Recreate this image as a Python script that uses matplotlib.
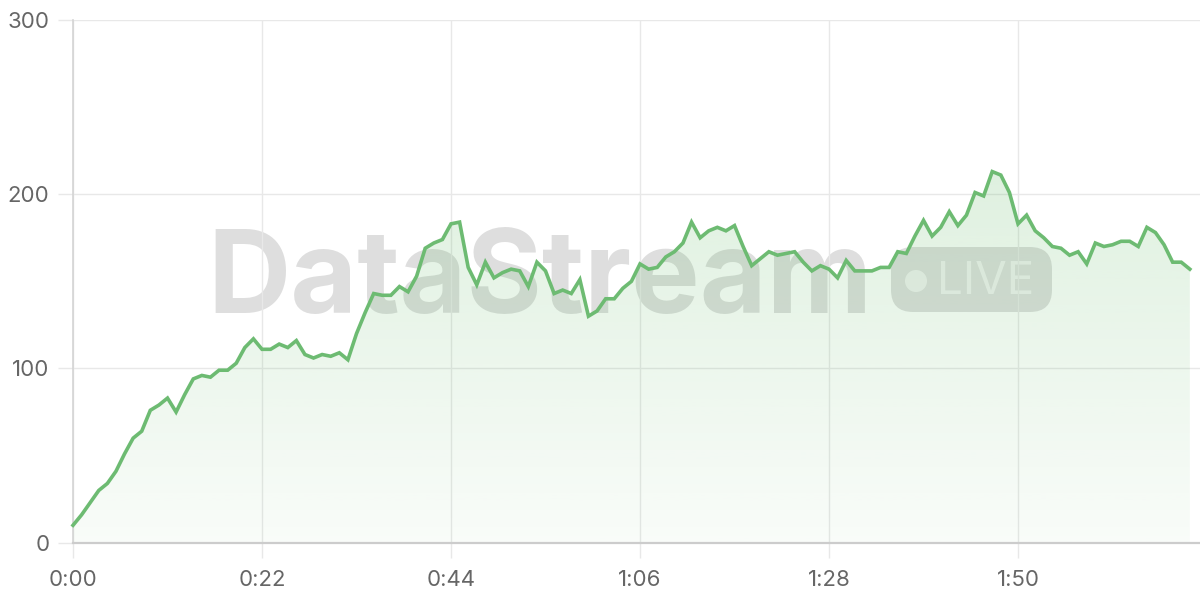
import matplotlib
matplotlib.use("Agg")
import matplotlib.pyplot as plt
import numpy as np
from matplotlib.patches import FancyBboxPatch, Circle, Polygon

# ---- data ----
values = [10, 16, 23, 30, 34, 41, 51, 60, 64, 76, 79, 83, 75, 85, 94, 96, 95, 99, 99, 103,
          112, 117, 111, 111, 114, 112, 116, 108, 106, 108, 107, 109, 105, 120, 132, 143, 142, 142, 147, 144,
          153, 169, 172, 174, 183, 184, 158, 148, 161, 152, 155, 157, 156, 147, 161, 156, 143, 145, 143, 151,
          130, 133, 140, 140, 146, 150, 160, 157, 158, 164, 167, 172, 184, 175, 179, 181, 179, 182, 170, 159,
          163, 167, 165, 166, 167, 161, 156, 159, 157, 152, 162, 156, 156, 156, 158, 158, 167, 166, 176, 185,
          176, 181, 190, 182, 188, 201, 199, 213, 211, 201, 183, 188, 179, 175, 170, 169, 165, 167, 160, 172,
          170, 171, 173, 173, 170, 181, 178, 171, 161, 161, 157]
seconds = list(range(len(values)))
x_ticks = [0, 22, 44, 66, 88, 110]
x_tick_labels = ["0:00", "0:22", "0:44", "1:06", "1:28", "1:50"]
y_ticks = [0, 100, 200, 300]
y_tick_labels = ["0", "100", "200", "300"]
watermark = "DataStream"
badge = "LIVE"

W, H = 1200, 600
fig = plt.figure(figsize=(12, 6), dpi=100)
fig.patch.set_facecolor("white")

font = "Inter"

# ---- overlay (pixel coordinates) for the watermark ----
ov = fig.add_axes([0, 0, 1, 1], zorder=1)
ov.set_xlim(0, W)
ov.set_ylim(H, 0)
ov.axis("off")
ov.text(540, 313, watermark, fontsize=83, fontweight="bold", family=font,
        color="black", alpha=0.13, ha="center", va="baseline")
pill = FancyBboxPatch((891, 247), 161, 65, boxstyle="round,pad=0,rounding_size=22",
                      facecolor="black", alpha=0.13, edgecolor="none")
ov.add_patch(pill)
ov.add_patch(Circle((916, 281), 11, facecolor="white", alpha=0.6, edgecolor="none"))
ov.text(937, 294, badge, fontsize=33, family=font, color="white", alpha=0.6,
        ha="left", va="baseline")

# ---- main axes ----
ax_left, ax_right, ax_top, ax_bottom = 73, 1200, 20, 542.7
ax = fig.add_axes([ax_left / W, 1 - ax_bottom / H, (ax_right - ax_left) / W, (ax_bottom - ax_top) / H],
                  zorder=2)
ax.patch.set_alpha(0)

xmax = (ax_right - ax_left) / 8.591

line_color = "#6dbb72"
grid_color = "#e8e8e8"
text_color = "#666666"

ax.set_axisbelow(True)
ax.grid(True, color=grid_color, linewidth=1.0, zorder=0)
ax.set_xticks(x_ticks)
ax.set_xticklabels(x_tick_labels)
ax.set_yticks(y_ticks)
ax.set_yticklabels(y_tick_labels)
ax.tick_params(axis="both", length=11, width=1.0, color=grid_color, labelcolor=text_color, labelsize=16)
ax.tick_params(axis="x", pad=9)
ax.tick_params(axis="y", pad=6)
for lbl in ax.get_xticklabels() + ax.get_yticklabels():
    lbl.set_fontfamily(font)
for s in ["top", "right"]:
    ax.spines[s].set_visible(False)
ax.spines["left"].set_color("#d4d4d4")
ax.spines["left"].set_linewidth(1.2)
ax.spines["bottom"].set_color("#cccccc")
ax.spines["bottom"].set_linewidth(1.6)

# gradient fill
xs = np.array(seconds, dtype=float)
ys = np.array(values, dtype=float)
grad = np.linspace(0, 1, 256)
rgba = np.zeros((256, 1, 4))
rgba[..., 0] = 0x66 / 255
rgba[..., 1] = 0xbb / 255
rgba[..., 2] = 0x6a / 255
rgba[:, 0, 3] = 0.04 + 0.17 * grad
img = ax.imshow(rgba, extent=[xs[0], xs[-1], 0, ys.max()], origin="lower", aspect="auto", zorder=1)
verts = np.column_stack([np.r_[xs, xs[-1], xs[0]], np.r_[ys, 0, 0]])
poly = Polygon(verts, closed=True, facecolor="none", edgecolor="none", transform=ax.transData)
ax.add_patch(poly)
img.set_clip_path(poly)
ax.set_xlim(0, xmax)
ax.set_ylim(0, 300)

ax.plot(xs, ys, color=line_color, linewidth=2.6, solid_joinstyle="miter", zorder=3, clip_on=False)

fig.savefig("out.png", dpi=100, facecolor="white")
